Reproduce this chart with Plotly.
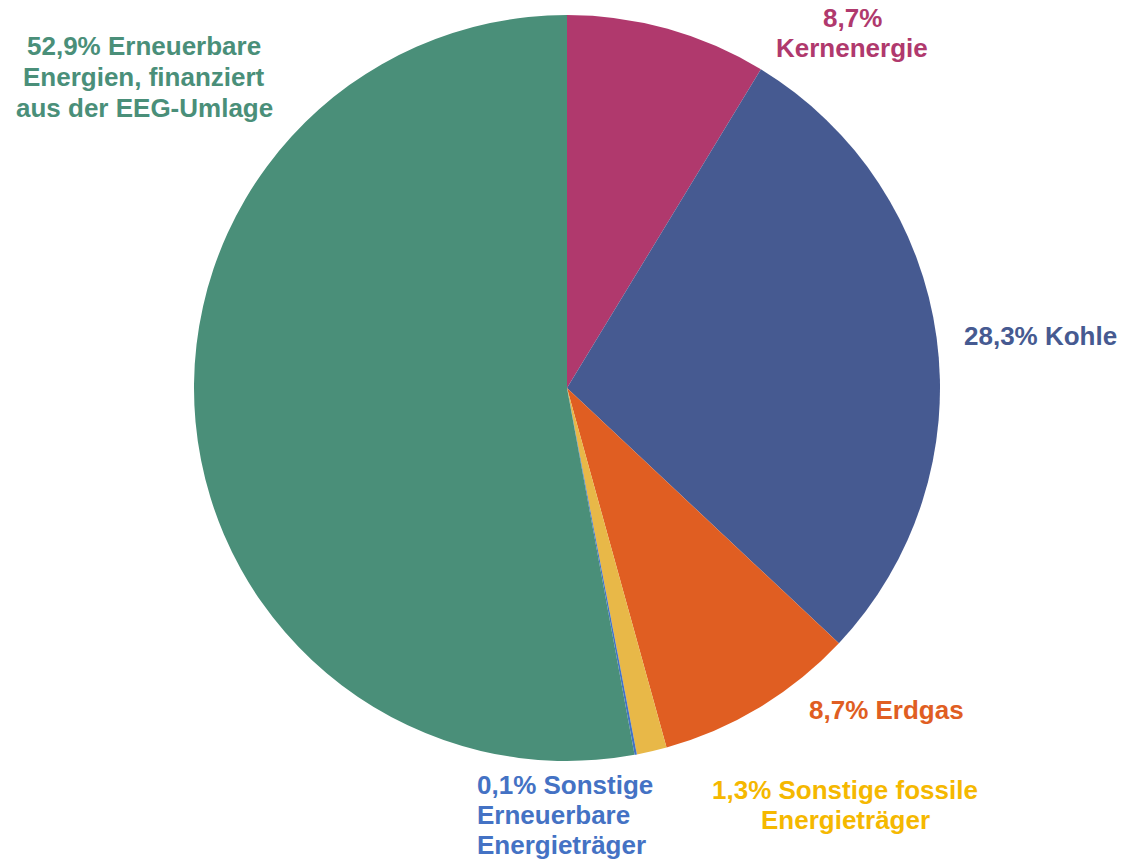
import plotly.graph_objects as go

labels = ["Kernenergie", "Kohle", "Erdgas", "Sonstige fossile Energieträger",
          "Sonstige Erneuerbare Energieträger", "Erneuerbare Energien, finanziert aus der EEG-Umlage"]
values = [8.7, 28.3, 8.7, 1.3, 0.1, 52.9]
label_lines = [["8,7%", "Kernenergie"], ["28,3% Kohle"], ["8,7% Erdgas"],
               ["1,3% Sonstige fossile", "Energieträger"],
               ["0,1% Sonstige", "Erneuerbare", "Energieträger"],
               ["52,9% Erneuerbare", "Energien, finanziert", "aus der EEG-Umlage"]]
slice_colors = ["#B0396D", "#465A91", "#E05E22", "#E8B848", "#4472C4", "#4A8F79"]
text_colors = ["#B0396D", "#465A91", "#E05E22", "#F5B800", "#4472C4", "#4A8F79"]

W, H = 1125, 865
# label layout in pixels: (x, first line y, line step, anchor)
label_pos = [(852, 18, 30, "center"), (1040, 336, 30, "center"), (886, 710, 30, "center"),
             (845, 790, 30, "center"), (475, 785, 30, "left"), (144, 46, 31, "center")]

cx, cy, r = 567, 388, 373
fig = go.Figure(go.Pie(
    labels=labels, values=values, sort=False, direction="clockwise", rotation=0,
    marker=dict(colors=slice_colors, line=dict(width=0)),
    textinfo="none", hoverinfo="label+percent",
    domain=dict(x=[(cx - r) / W, (cx + r) / W], y=[1 - (cy + r) / H, 1 - (cy - r) / H]),
))

annotations = []
for lines, col, (px, py, step, al) in zip(label_lines, text_colors, label_pos):
    for i, line in enumerate(lines):
        annotations.append(dict(
            text=line, x=px / W, y=1 - (py + i * step) / H, xref="paper", yref="paper",
            xanchor=al, yanchor="middle", align=al, showarrow=False,
            font=dict(family="Liberation Sans, Arial, sans-serif", size=26, color=col, weight="bold"),
        ))

fig.update_layout(
    width=W, height=H, margin=dict(l=0, r=0, t=0, b=0),
    paper_bgcolor="white", plot_bgcolor="white", showlegend=False,
    annotations=annotations,
)
fig.write_html("out.html", config={"displayModeBar": False},
               post_script="document.body.style.margin='0';document.body.style.overflow='hidden';")
